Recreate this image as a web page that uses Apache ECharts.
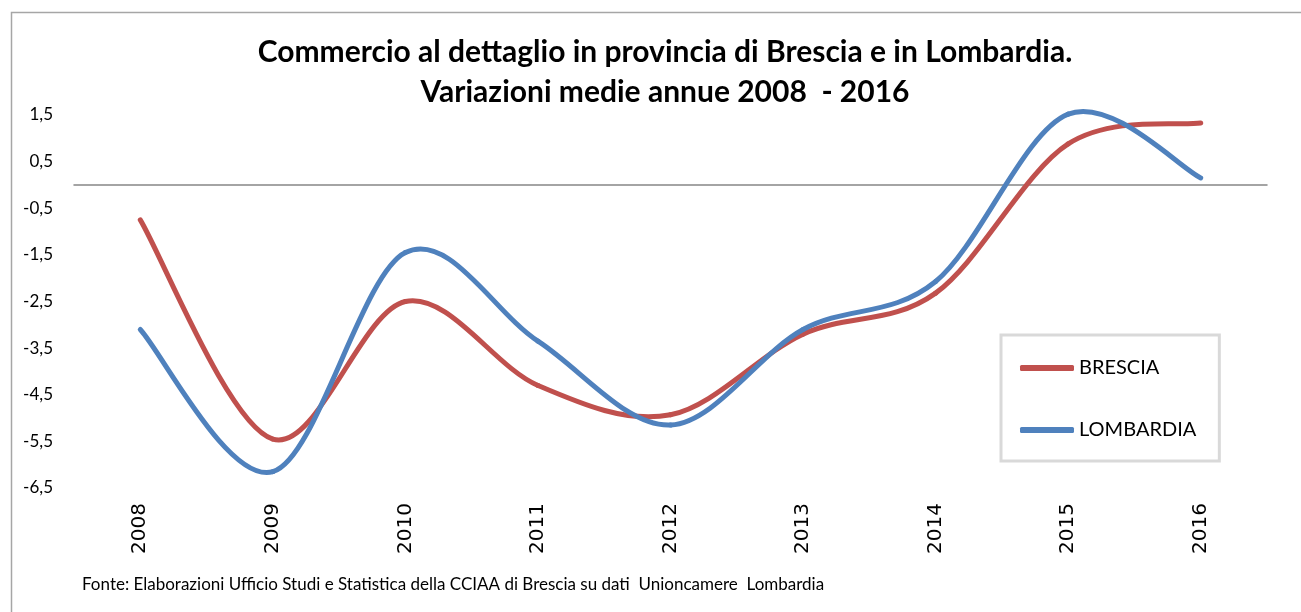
<!DOCTYPE html>
<html>
<head>
<meta charset="utf-8">
<script src="https://cdn.jsdelivr.net/npm/echarts@6/dist/echarts.min.js"></script>
<style>
    html, body { margin: 0; padding: 0; background: #fff; }
    #chart { width: 1301px; height: 612px; }
</style>
</head>
<body>
<div id="chart"></div>
<script>
// dati
const anni = ['2008', '2009', '2010', '2011', '2012', '2013', '2014', '2015', '2016'];
const brescia = [-0.75, -5.45, -2.5, -4.3, -4.93, -3.2, -2.32, 0.88, 1.33];
const lombardia = [-3.1, -6.15, -1.45, -3.35, -5.15, -3.1, -2.07, 1.52, 0.15];
const tickY = [-6.5, -5.5, -4.5, -3.5, -2.5, -1.5, -0.5, 0.5, 1.5];

const font = 'Lato, "Open Sans", sans-serif';

// curva smussata tipo Excel (Catmull-Rom), un segmento per punto
function curva(valori) {
    const n = valori.length;
    return function (params, api) {
        const i = params.dataIndex;
        if (i >= n - 1) {
            return null;
        }
        const p = k => {
            const j = Math.max(0, Math.min(n - 1, k));
            return api.coord([j, valori[j]]);
        };
        const p0 = p(i - 1), p1 = p(i), p2 = p(i + 1), p3 = p(i + 2);
        const t = 1 / 6;
        return {
            type: 'bezierCurve',
            shape: {
                x1: p1[0], y1: p1[1],
                x2: p2[0], y2: p2[1],
                cpx1: p1[0] + (p2[0] - p0[0]) * t,
                cpy1: p1[1] + (p2[1] - p0[1]) * t,
                cpx2: p2[0] - (p3[0] - p1[0]) * t,
                cpy2: p2[1] - (p3[1] - p1[1]) * t
            },
            style: {
                fill: null,
                stroke: api.visual('color'),
                lineWidth: 5,
                lineCap: 'round'
            }
        };
    };
}

const chart = echarts.init(document.getElementById('chart'));

chart.setOption({
    backgroundColor: '#ffffff',
    animation: false,
    color: ['#C0504D', '#4F81BD'],
    title: {
        text: 'Commercio al dettaglio in provincia di Brescia e in Lombardia.\nVariazioni medie annue 2008  - 2016',
        left: 660,
        textAlign: 'center',
        top: 27,
        textStyle: {
            fontFamily: font,
            fontWeight: 'bold',
            fontSize: 30,
            lineHeight: 40,
            color: '#000'
        }
    },
    legend: {
        orient: 'vertical',
        left: 1001,
        top: 335,
        padding: [23, 23, 21, 19],
        itemGap: 42,
        itemWidth: 54,
        itemHeight: 6,
        icon: 'roundRect',
        borderColor: '#d9d9d9',
        borderWidth: 3,
        textStyle: { fontFamily: font, fontSize: 20, color: '#000' },
        data: ['BRESCIA', 'LOMBARDIA']
    },
    grid: { left: 74, right: 34, top: 115, bottom: 124 },
    xAxis: [
        {
            type: 'category',
            data: anni,
            boundaryGap: true,
            axisLine: { show: false, onZero: false },
            axisTick: { show: false },
            axisLabel: {
                rotate: 90,
                margin: 15,
                fontFamily: '"DejaVu Sans", sans-serif',
                fontSize: 20,
                color: '#000'
            }
        },
        {
            // linea dello zero
            type: 'category',
            data: anni,
            position: 'bottom',
            axisLine: { show: true, onZero: true, lineStyle: { color: '#868686', width: 1.5 } },
            axisTick: { show: false },
            axisLabel: { show: false }
        }
    ],
    yAxis: {
        type: 'value',
        min: tickY[0],
        max: tickY[tickY.length - 1],
        interval: 1,
        splitLine: { show: false },
        axisLine: { show: false },
        axisTick: { show: false },
        axisLabel: {
            margin: 21,
            fontFamily: font,
            fontSize: 17,
            color: '#000',
            formatter: v => v.toFixed(1).replace('.', ',')
        }
    },
    graphic: [
        {
            type: 'rect',
            left: 9, top: 10,
            shape: { width: 1400, height: 700 },
            style: { fill: 'none', stroke: '#a6a6a6', lineWidth: 1.5 },
            silent: true
        },
        {
            type: 'text',
            left: 82, top: 576,
            style: {
                text: 'Fonte: Elaborazioni Ufficio Studi e Statistica della CCIAA di Brescia su dati  Unioncamere  Lombardia',
                font: '17px ' + font,
                fill: '#000'
            }
        }
    ],
    series: [
        {
            name: 'BRESCIA',
            type: 'custom',
            renderItem: curva(brescia),
            data: brescia.map((v, i) => [i, v]),
            encode: { x: 0, y: 1 },
            z: 3
        },
        {
            name: 'LOMBARDIA',
            type: 'custom',
            renderItem: curva(lombardia),
            data: lombardia.map((v, i) => [i, v]),
            encode: { x: 0, y: 1 },
            z: 4
        }
    ]
});
</script>
</body>
</html>
